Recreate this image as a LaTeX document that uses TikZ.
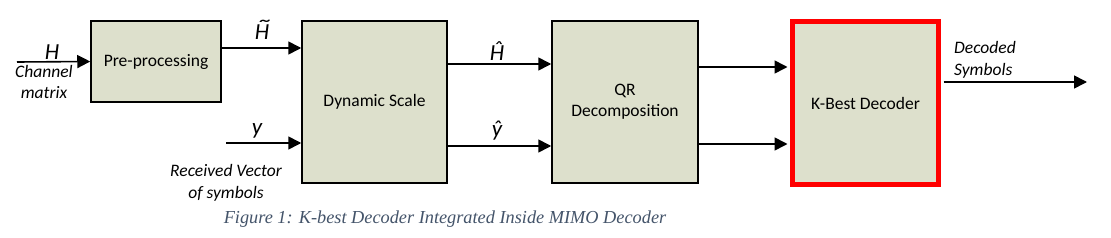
\documentclass[tikz,border=0pt]{standalone}
\usepackage{fontspec}
\usepackage{graphicx}
\setmainfont{Carlito}
\newfontfamily\capfont{Liberation Serif}
\usetikzlibrary{arrows.meta}
\definecolor{boxfill}{HTML}{DDE0CC}
\definecolor{capcol}{HTML}{44546A}
\definecolor{kred}{HTML}{FF0000}
\begin{document}
\begin{tikzpicture}[x=1pt,y=-1pt,
  blk/.style={draw=black,line width=1.5pt,fill=boxfill,inner sep=0pt,font=\fontsize{17.5}{21}\selectfont,align=center},
  conn/.style={line width=1.6pt,-{Triangle[length=13pt,width=13pt]}},
  sym/.style={font=\fontsize{23}{26}\selectfont\itshape,inner sep=0pt},
  lab/.style={font=\fontsize{17.5}{21.5}\selectfont\itshape,inner sep=0pt,align=center}]
\useasboundingbox (0,0) rectangle (1111,238);
\fill[white] (0,0) rectangle (1111,238);
% blocks
\node[blk,minimum width=130pt,minimum height=81pt] (pre) at (156,61.5) {Pre-processing};
\node[blk,minimum width=145pt,minimum height=162pt] (ds) at (374.5,102) {Dynamic Scale};
\node[blk,minimum width=146pt,minimum height=162pt] (qr) at (625,102) {QR\\Decomposition};
\node[blk,draw=kred,line width=5pt,minimum width=146pt,minimum height=163pt] (kb) at (865.5,103) {K-Best Decoder};
% free ends
\coordinate (hin) at (17,62);
\coordinate (yin) at (226,143);
\coordinate (out) at (1087,82);
% connectors
\draw[conn] (hin) -- (pre.west);
\draw[conn] (pre.east |- 0,48) -- (ds.west |- 0,48);
\draw[conn] (yin) -- (ds.west |- yin);
\draw[conn] (ds.east |- 0,64) -- (qr.west |- 0,64);
\draw[conn] (ds.east |- 0,146) -- (qr.west |- 0,146);
\draw[conn] (qr.east |- 0,67) -- ([xshift=-2.5pt]kb.west |- 0,67);
\draw[conn] (qr.east |- 0,144) -- ([xshift=-2.5pt]kb.west |- 0,144);
\draw[conn] ([xshift=2.5pt]kb.east |- out) -- (out);
% labels
\node[sym] (hl) at (52,52) {H};
\node[lab] (cm) at (44,82) {Channel\\matrix};
\node[sym] (htl) at (262,32) {\ooalign{H\cr\hidewidth\kern2pt\raisebox{4pt}{\scalebox{1.7}[1]{\char"02DC}}\hidewidth\cr}};
\node[sym] (yl) at (257,131) {y};
\node[lab] (rv) at (226,183) {Received Vector\\of symbols};
\node[sym] (hhl) at (497,51) {\^{H}};
\node[sym] (yhl) at (497,131) {\^{y}};
\node[lab,align=left,anchor=west] (dsym) at (954,60) {Decoded\\Symbols};
% caption
\node[font=\capfont\fontsize{18.3}{20}\selectfont\itshape,text=capcol,inner sep=0pt] (cap) at (445,219) {Figure 1: K-best Decoder Integrated Inside MIMO Decoder};
\end{tikzpicture}
\end{document}
